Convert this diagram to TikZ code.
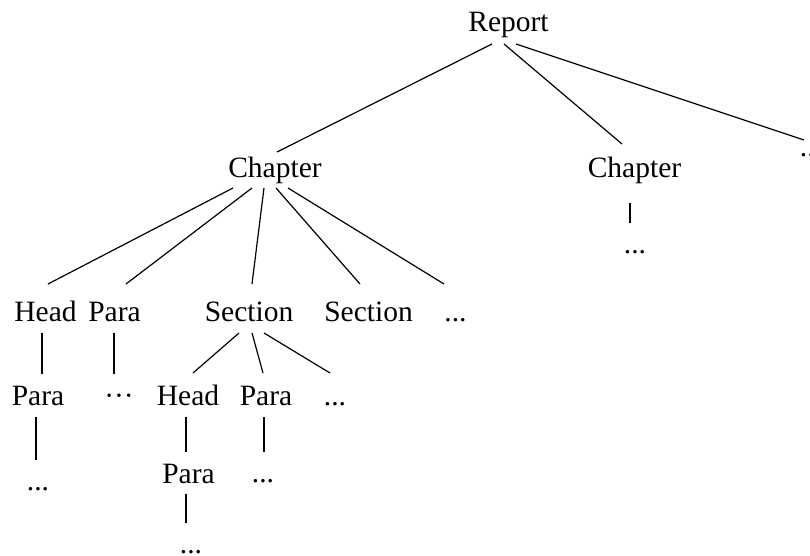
\documentclass[tikz,border=0pt]{standalone}
\usepackage{fontspec}
\setmainfont{Liberation Serif}
\begin{document}
\begin{tikzpicture}[x=1pt,y=-1pt,
  lbl/.style={anchor=base,inner sep=0pt,font=\fontsize{29.5}{35}\selectfont},
  link/.style={line width=1.2pt,line cap=butt}]
\useasboundingbox (0,0) rectangle (810,556);

% level 0
\node[lbl] (rep) at (508.5,32) {Report};
% level 1
\node[lbl] (ch1) at (275,177) {Chapter};
\node[lbl] (ch2) at (634.5,177) {Chapter};
\node[lbl] (rdots) at (811,157) {...};
\node[lbl] (c2dots) at (635,253) {...};
% level 2
\node[lbl] (head2) at (45.5,321) {Head};
\node[lbl] (para2) at (114.5,321) {Para};
\node[lbl] (sec1) at (249,321) {Section};
\node[lbl] (sec2) at (368.5,321) {Section};
\node[lbl] (dots2) at (455.5,321) {...};
% level 3
\node[lbl] (para3a) at (38,405) {Para};
\node[lbl] (mdots3) at (119,405) {···};
\node[lbl] (head3) at (188,405) {Head};
\node[lbl] (para3b) at (266,405) {Para};
\node[lbl] (dots3) at (335,405) {...};
% level 4
\node[lbl] (dots4a) at (38,490) {...};
\node[lbl] (para4) at (188.5,483) {Para};
\node[lbl] (dots4b) at (263,482) {...};
% level 5
\node[lbl] (dots5) at (191,553) {...};

% report to chapters
\draw[link] ([shift={(-16.5,12)}]rep.base) -- ([shift={(2,-25)}]ch1.base);
\draw[link] ([shift={(-4.5,12)}]rep.base) -- ([shift={(-12.5,-33)}]ch2.base);
\draw[link] ([shift={(7.5,12)}]rep.base) -- ([shift={(-7,-17)}]rdots.base);

% first chapter fan
\draw[link] ([shift={(-42,11)}]ch1.base) -- ([shift={(2.5,-37)}]head2.base);
\draw[link] ([shift={(-23,11)}]ch1.base) -- ([shift={(11.5,-37)}]para2.base);
\draw[link] ([shift={(-11,11)}]ch1.base) -- ([shift={(3,-37)}]sec1.base);
\draw[link] ([shift={(1,11)}]ch1.base) -- ([shift={(-8.5,-37)}]sec2.base);
\draw[link] ([shift={(13,11)}]ch1.base) -- ([shift={(-11.5,-37)}]dots2.base);

% second chapter
\draw[link] ([shift={(-4.5,26)}]ch2.base) -- ([shift={(-5,-30)}]c2dots.base);

% section fan
\draw[link] ([shift={(-10,12)}]sec1.base) -- ([shift={(5,-32)}]head3.base);
\draw[link] ([shift={(3,12)}]sec1.base) -- ([shift={(-3,-32)}]para3b.base);
\draw[link] ([shift={(15,12)}]sec1.base) -- ([shift={(-5,-32)}]dots3.base);

% vertical links
\draw[link] ([shift={(-3.5,12)}]head2.base) -- ([shift={(4,-31)}]para3a.base);
\draw[link] ([shift={(-0.5,12)}]para2.base) -- ([shift={(-5,-31)}]mdots3.base);
\draw[link] ([shift={(-2,12)}]para3a.base) -- ([shift={(-2,-30)}]dots4a.base);
\draw[link] ([shift={(-2,12)}]head3.base) -- ([shift={(-2.5,-31)}]para4.base);
\draw[link] ([shift={(-2,12)}]para3b.base) -- ([shift={(1,-30)}]dots4b.base);
\draw[link] ([shift={(-2.5,11)}]para4.base) -- ([shift={(-5,-30)}]dots5.base);
\end{tikzpicture}
\end{document}
